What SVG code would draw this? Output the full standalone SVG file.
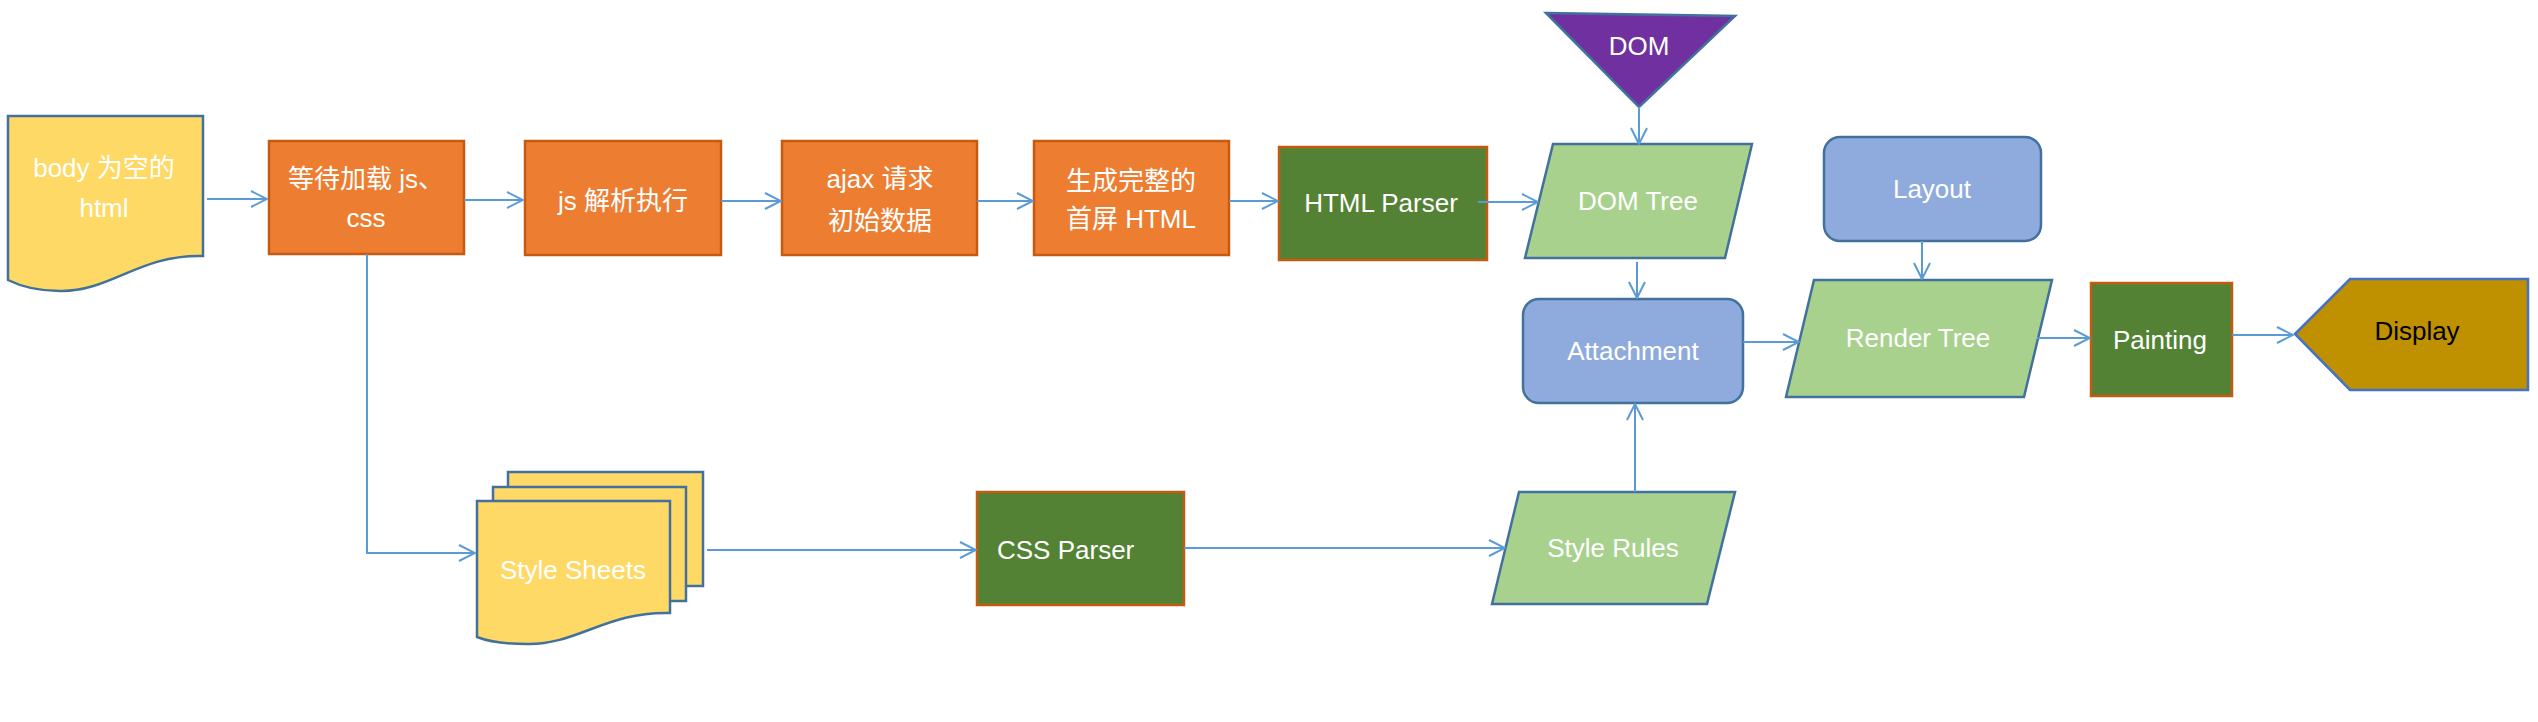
<svg xmlns="http://www.w3.org/2000/svg" width="2538" height="722" viewBox="0 0 2538 722">
<style>
text{font-family:"Liberation Sans","Noto Sans CJK SC",sans-serif;font-size:26px;fill:#ffffff;text-anchor:middle}
.doc{fill:#FFD966;stroke:#41719C;stroke-width:2.5}
.org{fill:#ED7D31;stroke:#C55A11;stroke-width:2.5}
.grn{fill:#548235;stroke:#C55A11;stroke-width:2.5}
.lg{fill:#A9D18E;stroke:#41719C;stroke-width:2.5}
.bl{fill:#8FAADC;stroke:#41719C;stroke-width:2.5}
.conn path{fill:none;stroke:#5B9BD5;stroke-width:2;marker-end:url(#arr)}
</style>
<defs>
<marker id="arr" viewBox="0 0 18 18" refX="17" refY="9" markerWidth="18" markerHeight="18" markerUnits="userSpaceOnUse" orient="auto">
<path d="M1,1 L17,9 L1,17" fill="none" stroke="#5B9BD5" stroke-width="2"/>
</marker>
</defs>
<rect width="2538" height="722" fill="#ffffff"/>
<g id="body-html">
<path class="doc" d="M8,116 H203 V256 C140,254 110,292 60,291 C35,291 18,285 8,280 Z"/>
<text x="104" y="177">body 为空的</text>
<text x="104" y="217">html</text>
</g>
<g id="wait-load">
<rect class="org" x="269" y="141" width="195" height="113"/>
<text x="366" y="188">等待加载 js、</text>
<text x="366" y="227">css</text>
</g>
<g id="js-exec">
<rect class="org" x="525" y="141" width="196" height="114"/>
<text x="623" y="210">js 解析执行</text>
</g>
<g id="ajax">
<rect class="org" x="782" y="141" width="195" height="114"/>
<text x="880" y="188">ajax 请求</text>
<text x="880" y="230">初始数据</text>
</g>
<g id="gen-html">
<rect class="org" x="1034" y="141" width="195" height="114"/>
<text x="1131" y="190">生成完整的</text>
<text x="1131" y="228">首屏 HTML</text>
</g>
<g id="html-parser">
<rect class="grn" x="1279" y="147" width="208" height="113"/>
<text x="1381" y="212">HTML Parser</text>
</g>
<g id="dom">
<path d="M1546,13 L1735,16 L1639,107 Z" fill="#7030A0" stroke="#41719C" stroke-width="2.5"/>
<text x="1639" y="55">DOM</text>
</g>
<g id="dom-tree">
<path class="lg" d="M1553,144 H1752 L1725,258 H1525 Z"/>
<text x="1638" y="210">DOM Tree</text>
</g>
<g id="attachment">
<rect class="bl" x="1523" y="299" width="220" height="104" rx="16"/>
<text x="1633" y="360">Attachment</text>
</g>
<g id="layout">
<rect class="bl" x="1824" y="137" width="217" height="104" rx="16"/>
<text x="1932" y="198">Layout</text>
</g>
<g id="render-tree">
<path class="lg" d="M1814,280 H2052 L2024,397 H1786 Z"/>
<text x="1918" y="347">Render Tree</text>
</g>
<g id="painting">
<rect class="grn" x="2091" y="283" width="141" height="113"/>
<text x="2160" y="349">Painting</text>
</g>
<g id="display">
<path d="M2295,334 L2350,279 H2528 V390 H2350 Z" fill="#BF9000" stroke="#4472C4" stroke-width="2.5"/>
<text x="2417" y="340" style="fill:#000000">Display</text>
</g>
<g id="style-sheets">
<rect class="doc" x="508" y="472" width="195" height="114"/>
<rect class="doc" x="493" y="487" width="193" height="114"/>
<path class="doc" d="M477,501 H670 V613 C607,611 577,645 527,644 C502,644 487,641 477,637 Z"/>
<text x="573" y="579">Style Sheets</text>
</g>
<g id="css-parser">
<rect class="grn" x="977" y="492" width="207" height="113"/>
<text x="997" y="559" style="text-anchor:start">CSS Parser</text>
</g>
<g id="style-rules">
<path class="lg" d="M1519,492 H1735 L1707,604 H1492 Z"/>
<text x="1613" y="557">Style Rules</text>
</g>
<g id="connectors" class="conn">
<path d="M207,199 H267"/>
<path d="M464,200 H523"/>
<path d="M721,201 H781"/>
<path d="M977,201 H1033"/>
<path d="M1229,201 H1278"/>
<path d="M1478,202 H1538"/>
<path d="M1639,107 V144"/>
<path d="M1637,262 V298"/>
<path d="M1922,241 V279"/>
<path d="M1743,342 H1799"/>
<path d="M2037,338 H2090"/>
<path d="M2232,335 H2293"/>
<path d="M367,254 V553 H475"/>
<path d="M707,550 H976"/>
<path d="M1184,548 H1505"/>
<path d="M1635,492 V404"/>
</g>
</svg>
